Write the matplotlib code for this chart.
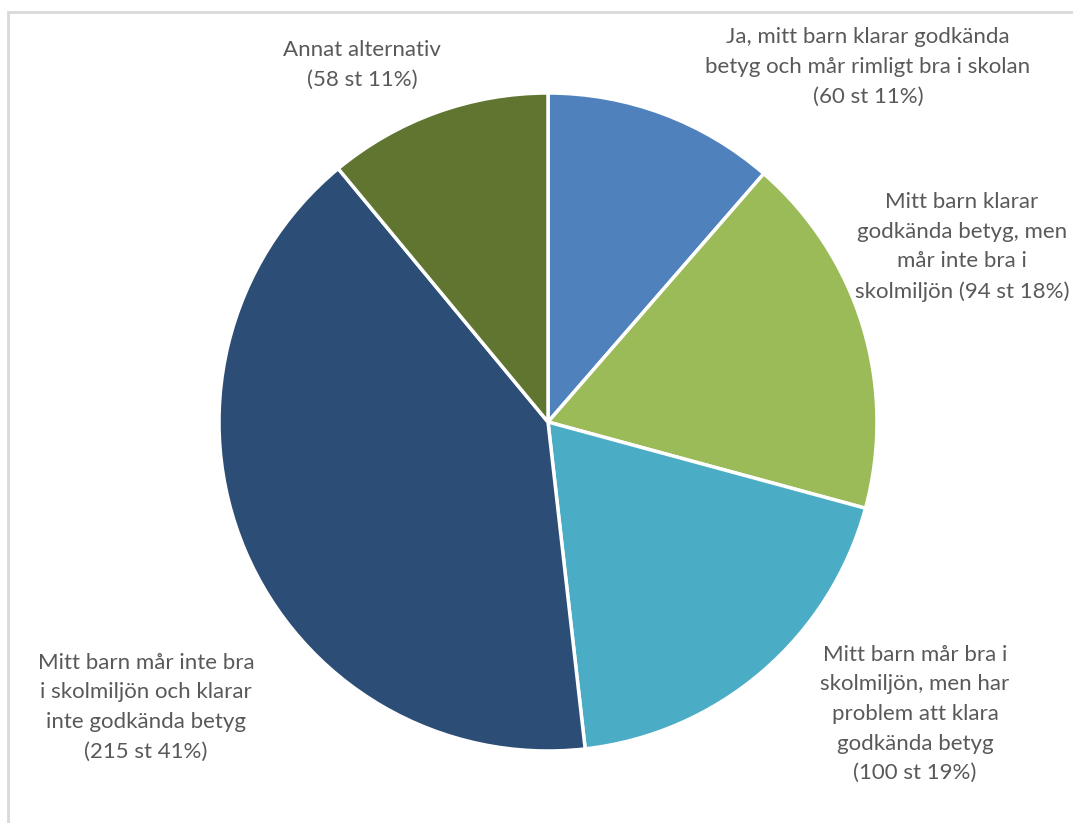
import numpy as np
import matplotlib.pyplot as plt

plt.rcParams['font.family'] = ['Lato', 'DejaVu Sans']

W, H = 1073, 823

categories = [
    "Ja, mitt barn klarar godkända\nbetyg och mår rimligt bra i skolan",
    "Mitt barn klarar\ngodkända betyg, men\nmår inte bra i\nskolmiljön",
    "Mitt barn mår bra i\nskolmiljön, men har\nproblem att klara\ngodkända betyg",
    "Mitt barn mår inte bra\ni skolmiljön och klarar\ninte godkända betyg",
    "Annat alternativ",
]
counts = [60, 94, 100, 215, 58]
colors = ['#4F81BD', '#9BBB59', '#4BACC6', '#2C4D75', '#5F7530']

# label centres in pixels (from top-left)
label_pos = [(868, 67), (962, 247), (915, 714), (146, 707), (362, 65)]

fig = plt.figure(figsize=(W / 100, H / 100), dpi=100)
ax = fig.add_axes([0, 0, 1, 1])

ax.pie(counts, colors=colors, startangle=90, counterclock=False,
       center=(548, H - 422), radius=329,
       wedgeprops=dict(edgecolor='white', linewidth=2.5))
ax.set_xlim(0, W)
ax.set_ylim(0, H)
ax.set_aspect('auto')
ax.axis('off')

total = sum(counts)
for cat, n, (px, py) in zip(categories, counts, label_pos):
    pct = round(100 * n / total)
    if cat.endswith("skolmiljön"):
        txt = f"{cat} ({n} st {pct}%)"
    else:
        txt = f"{cat}\n({n} st {pct}%)"
    ax.text(px, H - py, txt, ha='center', va='center', fontsize=16,
            color='#595959', linespacing=1.6)

# chart frame (only top and left visible)
ax.plot([8, 8, W], [0, H - 12, H - 12], color='#D9D9D9', lw=2,
        solid_joinstyle='miter', clip_on=False)

fig.savefig('out.png', dpi=100)
